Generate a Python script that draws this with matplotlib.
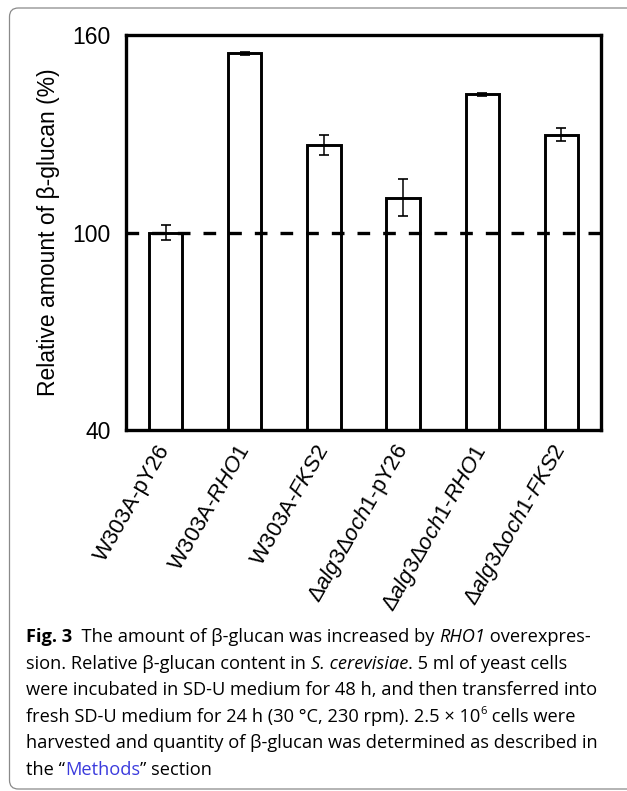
import matplotlib
matplotlib.use("Agg")
import matplotlib.pyplot as plt
from matplotlib.patches import FancyBboxPatch
import numpy as np

plt.rcParams['font.family'] = ['Liberation Sans', 'DejaVu Sans']
plt.rcParams['mathtext.fontset'] = 'custom'
plt.rcParams['mathtext.rm'] = 'Liberation Sans'
plt.rcParams['mathtext.it'] = 'Liberation Sans:italic'
plt.rcParams['mathtext.default'] = 'it'

categories = ["W303A-pY26", "W303A-$RHO1$", "W303A-$FKS2$",
              "Δ$alg3$Δ$och1$-pY26", "Δ$alg3$Δ$och1$-$RHO1$", "Δ$alg3$Δ$och1$-$FKS2$"]
values = [100.0, 154.4, 126.6, 110.6, 142.0, 129.7]
errors = [2.3, 0.4, 3.1, 5.7, 0.4, 1.9]
yticks = [40, 100, 160]
ylabel = "Relative amount of β-glucan (%)"

W, H = 627, 791
fig = plt.figure(figsize=(W / 100, H / 100), dpi=100)

# rounded outer frame
frame = FancyBboxPatch((9.5 / W, 2.0 / H), 700 / W, (783 - 2.0) / H,
                       boxstyle="round,pad=0,rounding_size=0.014",
                       mutation_aspect=W / H,
                       transform=fig.transFigure, fill=False,
                       edgecolor="#8a8a8a", linewidth=0.9)
fig.patches.append(frame)

ax = fig.add_axes([126 / W, 1 - 430 / H, (601 - 126) / W, (430 - 35) / H])
x = np.arange(len(categories))
ax.bar(x, [v - 40 for v in values], bottom=40, width=0.42, color="white",
       edgecolor="black", linewidth=2.1, zorder=2)
ax.errorbar(x, values, yerr=errors, fmt="none", ecolor="black",
            elinewidth=1.1, capsize=3.6, capthick=1.2, zorder=3)
ax.axhline(100, color="black", linewidth=2.4, linestyle=(0, (3.8, 3.9)), zorder=4)

ax.set_xlim(-0.5, len(categories) - 0.5)
ax.set_ylim(40, 160)
ax.set_yticks(yticks)
ax.set_yticklabels([str(t) for t in yticks], fontsize=16.5)
ax.tick_params(axis="y", length=0, pad=11)
ax.tick_params(axis="x", length=0, pad=12)
ax.set_xticks(x)
ax.set_xticklabels(categories, rotation=60, ha="right", va="center",
                   rotation_mode="anchor", fontsize=15.8)
for s in ax.spines.values():
    s.set_linewidth(2.4)
ax.set_ylabel(ylabel, fontsize=16.5)
ax.yaxis.set_label_coords(-0.139, 0.5)

# caption with rich text
fig.canvas.draw()
renderer = fig.canvas.get_renderer()
cap_font = ['Open Sans', 'DejaVu Sans']
fs = 13.15

def draw_line(segments, x0, y0):
    xpos = x0
    for seg in segments:
        txt = seg[0]
        kw = dict(seg[1]) if len(seg) > 1 else {}
        dy = kw.pop('dy', 0)
        size = kw.pop('size', fs)
        t = fig.text(xpos / W, 1 - (y0 - dy) / H, txt, fontsize=size,
                     family=cap_font, va="baseline", ha="left", **kw)
        bb = t.get_window_extent(renderer)
        xpos += bb.width

lines = [
    [("Fig. 3", {'weight': 'bold'}), ("  The amount of β-glucan was increased by ", {}),
     ("RHO1", {'style': 'italic'}), (" overexpres-", {})],
    [("sion. Relative β-glucan content in ", {}), ("S. cerevisiae", {'style': 'italic'}),
     (". 5 ml of yeast cells", {})],
    [("were incubated in SD-U medium for 48 h, and then transferred into", {})],
    [("fresh SD-U medium for 24 h (30 °C, 230 rpm). 2.5 × 10", {}),
     ("6", {'size': fs * 0.62, 'dy': 8}), (" cells were", {})],
    [("harvested and quantity of β-glucan was determined as described in", {})],
    [("the “", {}), ("Methods", {'color': '#3b3bdd'}), ("” section", {})],
]
baselines = [642 + 26.6 * i for i in range(len(lines))]
for segs, yb in zip(lines, baselines):
    draw_line(segs, 26, yb)

fig.savefig("out.png", dpi=100)
